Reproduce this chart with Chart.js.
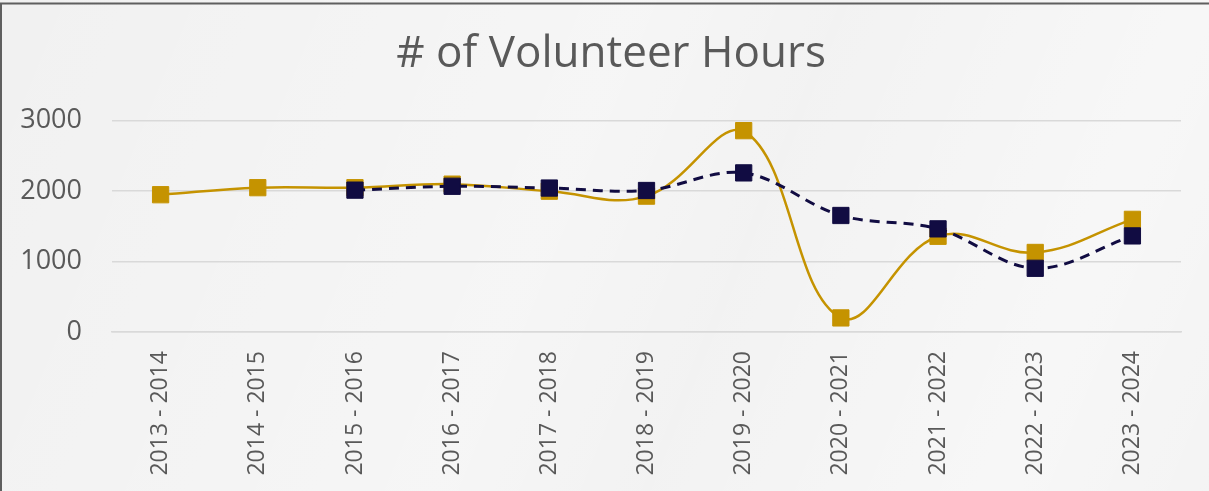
<!DOCTYPE html>
<html>
<head>
<meta charset="utf-8">
<script src="https://cdn.jsdelivr.net/npm/chart.js@4/dist/chart.umd.min.js"></script>
<style>
  html, body { margin: 0; padding: 0; background: #f2f2f2; }
  #wrap { position: relative; width: 1209px; height: 491px; }
  canvas { display: block; }
</style>
</head>
<body>
<div id="wrap"><canvas id="c" width="1209" height="491"></canvas></div>
<script>
const title = '# of Volunteer Hours';
const categories = ['2013 - 2014', '2014 - 2015', '2015 - 2016', '2016 - 2017', '2017 - 2018',
  '2018 - 2019', '2019 - 2020', '2020 - 2021', '2021 - 2022', '2022 - 2023', '2023 - 2024'];
const volunteerHours = [1950, 2050, 2050, 2100, 2000, 1930, 2860, 200, 1360, 1130, 1600];
const movingAverage = [null, null, 2015, 2070, 2045, 2010, 2260, 1655, 1465, 905, 1365];
const yTicks = [0, 1000, 2000, 3000];

const GOLD = '#C59300';
const NAVY = '#110C42';
const TEXT = '#595959';
const FONT = "'Open Sans', 'Liberation Sans', sans-serif";

const bgPlugin = {
  id: 'bg',
  afterLayout(chart) {
    if (chart.titleBlock) chart.titleBlock.left = 41;
  },
  beforeDraw(chart) {
    const ctx = chart.ctx;
    const w = chart.width, h = chart.height;
    ctx.save();
    ctx.fillStyle = '#f1f1f1';
    ctx.fillRect(0, 0, w, h);
    let g = ctx.createLinearGradient(0, 0, w, h);
    g.addColorStop(0, 'rgba(255,255,255,0)');
    g.addColorStop(0.45, 'rgba(255,255,255,0.35)');
    g.addColorStop(0.6, 'rgba(255,255,255,0.1)');
    g.addColorStop(0.85, 'rgba(255,255,255,0.45)');
    g.addColorStop(1, 'rgba(255,255,255,0.2)');
    ctx.fillStyle = g;
    ctx.fillRect(0, 0, w, h);
    ctx.strokeStyle = '#5f5f5f';
    ctx.lineWidth = 2;
    ctx.beginPath();
    ctx.moveTo(0, 3.5); ctx.lineTo(w, 3.5);
    ctx.moveTo(1, 3); ctx.lineTo(1, h);
    ctx.stroke();
    ctx.restore();
  }
};

new Chart(document.getElementById('c'), {
  type: 'line',
  data: {
    labels: categories,
    datasets: [
      {
        label: 'Moving average',
        data: movingAverage,
        borderColor: NAVY,
        backgroundColor: NAVY,
        borderWidth: 3,
        borderDash: [10, 7],
        tension: 0.35,
        pointStyle: 'rect',
        pointRadius: 11.5,
        pointBorderWidth: 1,
        pointBorderColor: NAVY,
        pointBackgroundColor: NAVY,
        spanGaps: false,
        order: 0
      },
      {
        label: '# of Volunteer Hours',
        data: volunteerHours,
        borderColor: GOLD,
        backgroundColor: GOLD,
        borderWidth: 2.5,
        tension: 0.4,
        pointStyle: 'rect',
        pointRadius: 11.5,
        pointBorderWidth: 1,
        pointBorderColor: GOLD,
        pointBackgroundColor: GOLD,
        order: 1
      }
    ]
  },
  options: {
    responsive: false,
    animation: false,
    layout: { padding: { left: 0, right: 28, top: 0, bottom: 0 } },
    plugins: {
      legend: { display: false },
      tooltip: { enabled: false },
      title: {
        display: true,
        text: title,
        color: TEXT,
        font: { family: FONT, size: 44, weight: 'normal' },
        padding: { top: 28, bottom: 40 }
      }
    },
    scales: {
      x: {
        offset: true,
        grid: { display: false, drawTicks: false },
        border: { display: true, color: '#d9d9d9', width: 1.5 },
        ticks: {
          color: TEXT,
          font: { family: FONT, size: 23 },
          minRotation: 90,
          maxRotation: 90,
          padding: 19,
          autoSkip: false
        },
        afterFit(s) { s.height = 159; }
      },
      y: {
        min: 0,
        max: 3000,
        afterBuildTicks(s) { s.ticks = yTicks.map(v => ({ value: v })); },
        grid: { color: '#d9d9d9', lineWidth: 1.5, drawTicks: false },
        border: { display: false },
        ticks: {
          color: TEXT,
          font: { family: FONT, size: 27 },
          padding: 30,
          callback: (v) => String(v)
        },
        afterFit(s) { s.width = 112; }
      }
    }
  },
  plugins: [bgPlugin]
});
</script>
</body>
</html>
